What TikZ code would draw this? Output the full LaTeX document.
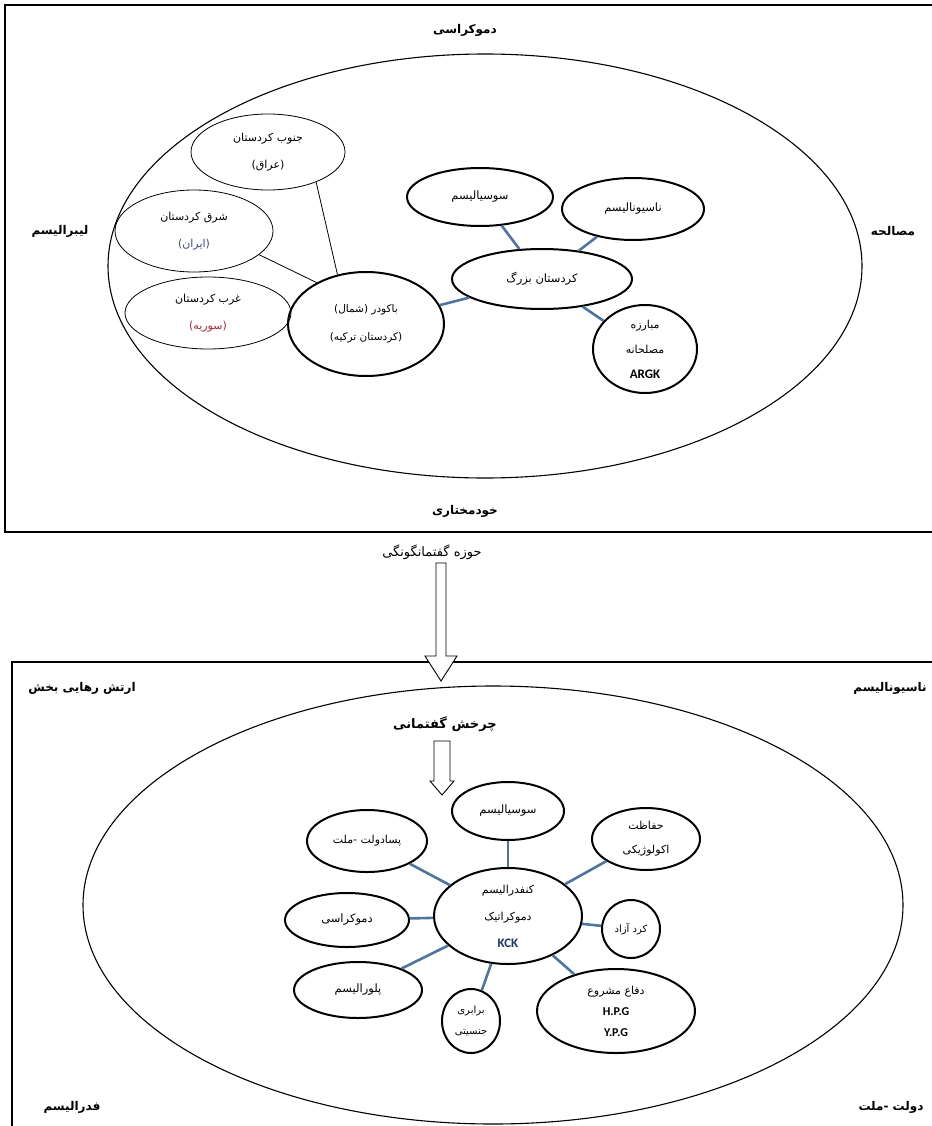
\documentclass[tikz,border=0pt]{standalone}
\usepackage{fontspec}
\newfontfamily\fa[Script=Arabic]{DejaVu Sans}
\newfontfamily\lat{Carlito}
\TeXXeTstate=1
\usetikzlibrary{shapes.geometric}
\definecolor{linkblue}{RGB}{79,116,160}
\definecolor{kckblue}{RGB}{31,56,100}
\definecolor{iranblue}{RGB}{60,70,140}
\definecolor{syriared}{RGB}{170,40,50}
\newcommand{\rl}[1]{\beginR#1\endR}

\begin{document}
\begin{tikzpicture}[
    x=1pt, y=-1pt,
    box/.style={draw, line width=1.4pt},
    bigoval/.style={draw, ellipse, line width=1.1pt, inner sep=0pt},
    sz/.style 2 args={minimum width=#1pt, minimum height=#2pt},
    thinoval/.style={draw, ellipse, line width=0.8pt, inner sep=0pt, align=center,
        font=\fa\fontsize{11}{27}\selectfont},
    thickoval/.style={draw, ellipse, line width=2pt, inner sep=0pt, align=center,
        font=\fa\fontsize{11.5}{24}\selectfont},
    pole/.style={font=\fa\bfseries\fontsize{12}{14}\selectfont},
    plain/.style={font=\fa\fontsize{13}{15}\selectfont},
    link/.style={draw=linkblue, line width=2.6pt},
    thinlink/.style={draw, line width=0.8pt},
    hollow/.style={draw, fill=white, line width=0.9pt, line join=miter}
]
\useasboundingbox (0,0) rectangle (931,1126);

% -- upper field --
\draw[box] (5,5) rectangle (945,532);
\node[bigoval, sz={754}{424}] (topField) at (485,266) {};

\node[pole] (demTop) at (465,30) {\rl{دموکراسی}};
\node[pole] (liberal) at (60,231) {\rl{لیبرالیسم}};
\node[pole] (mosalehe) at (893,231) {\rl{مصالحه}};
\node[pole] (khodmokhtari) at (465,511) {\rl{خودمختاری}};

\node[thinoval, sz={154}{76}] (jonub) at (268,152) {\rl{جنوب کردستان}\\\rl{(عراق)}};
\node[thinoval, sz={158}{82}] (shargh) at (194,231) {\rl{شرق کردستان}\\{\color{iranblue}\rl{(ایران)}}};
\node[thinoval, sz={166}{72}] (gharb) at (208,313) {\rl{غرب کردستان}\\{\color{syriared}\rl{(سوریه)}}};

\node[thickoval, sz={156}{104}, font=\fa\fontsize{10.5}{28}\selectfont] (bakur) at (366,324) {\rl{باکودر (شمال)}\\\rl{(کردستان ترکیه)}};
\node[thickoval, sz={180}{60}] (bozorg) at (542,279) {\rl{کردستان بزرگ}};
\node[thickoval, sz={146}{58}] (sosTop) at (480,197) {\rl{سوسیالیسم}};
\node[thickoval, sz={142}{62}] (nasTop) at (633,209) {\rl{ناسیونالیسم}};
\node[thickoval, sz={104}{88}, font=\fa\fontsize{11}{25}\selectfont] (mobareze) at (645,349) {\rl{مبارزه}\\\rl{مصلحانه}\\{\lat\bfseries\fontsize{13}{15}\selectfont ARGK}};

\draw[thinlink] (jonub.-32) -- (bakur.120);
\draw[thinlink] (shargh.-20) -- (bakur.140);
\draw[link] (bozorg) -- (sosTop);
\draw[link] (bozorg) -- (nasTop);
\draw[link] (bozorg) -- (bakur);
\draw[link] (bozorg) -- (mobareze);

% -- transition --
\node[plain] (howze) at (432,552) {\rl{حوزه گفتمانگونگی}};
\coordinate (arrowA) at (441,563);
\coordinate (arrowB) at (442,741);

% -- lower field --
\draw[box] (12,662) rectangle (945,1140);
\draw[hollow] (arrowA) ++(-5,0) -- ++(10,0) -- ++(0,93) -- ++(11,0) -- ++(-16,25)
    -- ++(-16,-25) -- ++(11,0) -- cycle;
\node[bigoval, sz={820}{438}] (botField) at (493,905) {};

\node[pole] (artesh) at (82,688) {\rl{ارتش رهایی بخش}};
\node[pole] (nasCorner) at (890,688) {\rl{ناسیونالیسم}};
\node[pole] (federal) at (72,1107) {\rl{فدرالیسم}};
\node[pole] (dolat) at (891,1107) {\rl{دولت -ملت}};
\node[pole, font=\fa\bfseries\fontsize{13}{15}\selectfont] (charkhesh) at (445,724) {\rl{چرخش گفتمانی}};

\draw[hollow] (arrowB) ++(-8,0) -- ++(16,0) -- ++(0,40) -- ++(4,0) -- ++(-12,14)
    -- ++(-12,-14) -- ++(4,0) -- cycle;

\node[thickoval, sz={148}{96}, font=\fa\fontsize{11}{27}\selectfont] (kck) at (508,916) {\rl{کنفدرالیسم}\\\rl{دموکراتیک}\\{\lat\bfseries\color{kckblue}\fontsize{13}{15}\selectfont KCK}};
\node[thickoval, sz={112}{58}] (sosBot) at (508,811) {\rl{سوسیالیسم}};
\node[thickoval, sz={120}{62}, font=\fa\fontsize{11}{24}\selectfont] (pasadolat) at (367,841) {\rl{پسادولت -ملت}};
\node[thickoval, sz={108}{62}, font=\fa\fontsize{11}{24}\selectfont] (hefazat) at (646,839) {\rl{حفاظت}\\\rl{اکولوژیکی}};
\node[thickoval, sz={124}{54}] (demBot) at (347,920) {\rl{دموکراسی}};
\node[thickoval, sz={58}{58}, font=\fa\fontsize{10}{20}\selectfont] (kord) at (631,929) {\rl{کرد آزاد}};
\node[thickoval, sz={128}{56}] (pluralism) at (358,990) {\rl{پلورالیسم}};
\node[thickoval, sz={58}{64}, font=\fa\fontsize{10}{21}\selectfont] (barabari) at (471,1021) {\rl{برابری}\\\rl{جنسیتی}};
\node[thickoval, sz={158}{84}, font=\fa\fontsize{11}{21}\selectfont] (defa) at (616,1011) {\rl{دفاع مشروع}\\{\lat\bfseries\fontsize{12}{14}\selectfont H.P.G}\\{\lat\bfseries\fontsize{12}{14}\selectfont Y.P.G}};

\draw[link] (kck) -- (sosBot);
\draw[link] (kck) -- (pasadolat);
\draw[link] (kck) -- (hefazat);
\draw[link] (kck) -- (demBot);
\draw[link] (kck) -- (kord);
\draw[link] (kck) -- (pluralism);
\draw[link] (kck) -- (barabari);
\draw[link] (kck) -- (defa);

\end{tikzpicture}
\end{document}
